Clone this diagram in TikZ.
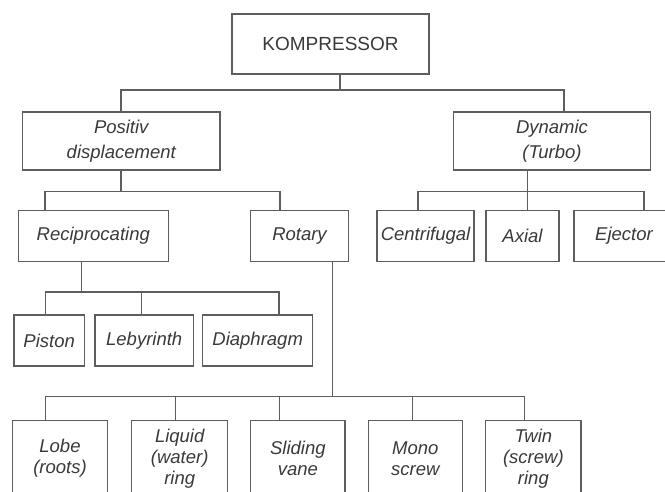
\documentclass[tikz,border=0pt]{standalone}
\usepackage{fontspec}
\setmainfont{Liberation Sans}
\begin{document}
\begin{tikzpicture}[x=1pt,y=-1pt,
  box/.style={draw=linegray, line width=1.3pt, fill=white, inner sep=0pt, align=center,
    text=textgray, font=\fontsize{18.5}{25}\selectfont\itshape},
  lowbox/.style={box, font=\fontsize{18.5}{21}\selectfont\itshape},
  conn/.style={draw=linegray, line width=1.3pt}]
\definecolor{linegray}{HTML}{5E5E5E}
\definecolor{textgray}{HTML}{3A3A3A}
\useasboundingbox (0,0) rectangle (665,492);
\clip (0,0) rectangle (665,492);
% nodes
\node[box, font=\fontsize{19}{25}\selectfont, minimum width=197pt, minimum height=60pt] (komp) at (330.5,44) {KOMPRESSOR};
\node[box, minimum width=197.5pt, minimum height=58pt] (pos) at (121.25,141) {Positiv\\displacement};
\node[box, minimum width=197pt, minimum height=58pt] (dyn) at (552,141) {Dynamic\\(Turbo)};
\node[box, minimum width=150pt, minimum height=51pt] (rec) at (93.3,236.2) {Reciprocating};
\node[box, minimum width=97.6pt, minimum height=51pt] (rot) at (299.5,236.2) {Rotary};
\node[box, minimum width=97pt, minimum height=51pt] (cen) at (425.5,236.2) {Centrifugal};
\node[box, minimum width=73pt, minimum height=51pt] (axi) at (522.5,236.2) {Axial};
\node[box, minimum width=100pt, minimum height=51pt] (eje) at (624,236.2) {Ejector};
\node[box, minimum width=70.3pt, minimum height=51pt] (pis) at (49.2,340.5) {Piston};
\node[box, minimum width=98.3pt, minimum height=51pt] (leb) at (144.2,340.5) {Lebyrinth};
\node[box, minimum width=110pt, minimum height=51pt] (dia) at (257.7,340.5) {Diaphragm};
\node[lowbox, minimum width=94.6pt, minimum height=76pt] (lob) at (60,458.7) {Lobe\\(roots)};
\node[lowbox, minimum width=96pt, minimum height=76pt] (liq) at (179.7,458.7) {Liquid\\(water)\\ring};
\node[lowbox, minimum width=94.3pt, minimum height=76pt] (sli) at (297.9,458.7) {Sliding\\vane};
\node[lowbox, minimum width=94pt, minimum height=76pt] (mon) at (415.3,458.7) {Mono\\screw};
\node[lowbox, minimum width=95.3pt, minimum height=76pt] (twi) at (533.4,458.7) {Twin\\(screw)\\ring};
% bus coordinates
\coordinate (a0) at (340,90);   \coordinate (aL) at (121,90);   \coordinate (aR) at (564,90);
\coordinate (b0) at (121,191.7); \coordinate (bL) at (45,191.7); \coordinate (bR) at (280,191.7);
\coordinate (c0) at (527.3,191.7); \coordinate (cL) at (418,191.7); \coordinate (cR) at (644,191.7);
\coordinate (d0) at (81.7,292); \coordinate (dL) at (45.7,292); \coordinate (dM) at (141.7,292); \coordinate (dR) at (279,292);
\coordinate (e0) at (332.3,396.5); \coordinate (e1) at (45.7,396.5); \coordinate (e2) at (175.7,396.5);
\coordinate (e3) at (279.3,396.5); \coordinate (e4) at (412.7,396.5); \coordinate (e5) at (524.3,396.5);
% connectors
\draw[conn] (komp.south -| a0) -- (a0);
\draw[conn] (pos.north -| aL) -- (aL) -- (aR) -- (dyn.north -| aR);
\draw[conn] (pos.south -| b0) -- (b0);
\draw[conn] (rec.north -| bL) -- (bL) -- (bR) -- (rot.north -| bR);
\draw[conn] (dyn.south -| c0) -- (axi.north -| c0);
\draw[conn] (cen.north -| cL) -- (cL) -- (cR) -- (eje.north -| cR);
\draw[conn] (rec.south -| d0) -- (d0);
\draw[conn] (pis.north -| dL) -- (dL) -- (dR) -- (dia.north -| dR);
\draw[conn] (dM) -- (leb.north -| dM);
\draw[conn] (rot.south -| e0) -- (e0);
\draw[conn] (lob.north -| e1) -- (e1) -- (e5) -- (twi.north -| e5);
\draw[conn] (e2) -- (liq.north -| e2);
\draw[conn] (e3) -- (sli.north -| e3);
\draw[conn] (e4) -- (mon.north -| e4);
\end{tikzpicture}
\end{document}
